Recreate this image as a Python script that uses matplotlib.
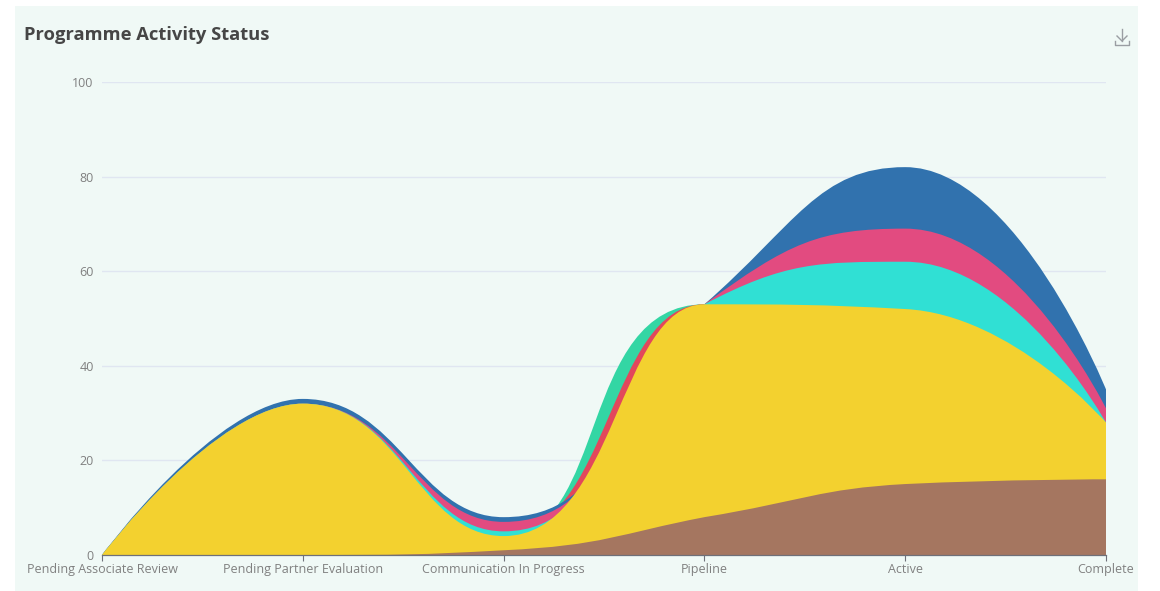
import matplotlib
matplotlib.use("Agg")
import matplotlib.pyplot as plt
from matplotlib.path import Path
from matplotlib.patches import PathPatch, Rectangle
from matplotlib.lines import Line2D

categories = ["Pending Associate Review", "Pending Partner Evaluation",
              "Communication In Progress", "Pipeline", "Active", "Complete"]
# stacked series values
brown = [0, 0, 1, 8, 15, 16]
yellow = [0, 32, 3, 45, 37, 12]
cyan = [0, 0, 1, 0, 10, 0]
pink = [0, 0, 2, 0, 7, 3]
blue = [0, 1, 1, 0, 13, 4]
# short series that only exist between Communication and Pipeline
green_ends = [4, 53]
red_ends = [4.5, 53]

W, H = 1160, 591
fig = plt.figure(figsize=(W / 100, H / 100), dpi=100, facecolor="white")
plt.rcParams["font.family"] = ["Open Sans", "DejaVu Sans"]
fig.add_artist(Rectangle((15 / W, 0), 1123 / W, 585 / H, transform=fig.transFigure,
                         facecolor="#F0F9F6", edgecolor="none", zorder=-5))

L, R, T, B = 102, 1106, 82, 555
ax = fig.add_axes([L / W, 1 - B / H, (R - L) / W, (B - T) / H])
ax.patch.set_alpha(0)
ax.set_xlim(0, len(categories) - 1)
ax.set_ylim(0, 100)
sx = (R - L) / (len(categories) - 1)
sy = (B - T) / 100
HANDLE_BACK_MAX = 0.43


def accumulate(*series):
    out, tot = [], [0] * len(series[0])
    for s in series:
        tot = [a + b for a, b in zip(tot, s)]
        out.append(tot)
    return out


def clamp(v, a, b):
    return max(min(v, max(a, b)), min(a, b))


def smooth_path(ys, smooth=0.5):
    """Bezier smoothing: handles scale with segment lengths, y clamped to each segment."""
    n = len(ys)
    py = [y * sy for y in ys]
    before, after = [None] * n, [None] * n
    before[0] = after[0] = (0.0, ys[0])
    before[-1] = after[-1] = (float(n - 1), ys[-1])
    for i in range(1, n - 1):
        y, y0, y1 = py[i], py[i - 1], py[i + 1]
        lp = (sx ** 2 + (y - y0) ** 2) ** 0.5
        ln = (sx ** 2 + (y1 - y) ** 2) ** 0.5
        r = ln / (ln + lp)
        ny = clamp(y + (y1 - y0) * smooth * r, y1, y)
        cy = clamp(y - (ny - y) * lp / ln, y0, y)
        ny = y + (y - cy) * ln / lp
        before[i] = (i - min(1 - r, HANDLE_BACK_MAX), cy / sy)
        after[i] = (i + r, ny / sy)
    verts = [(0.0, ys[0])]
    for i in range(1, n):
        verts += [after[i - 1], before[i], (float(i), ys[i])]
    return verts


def fill(verts, color, z):
    v = verts + [(verts[-1][0], 0), (verts[0][0], 0), verts[0]]
    codes = [Path.MOVETO] + [Path.CURVE4] * (len(verts) - 1) + \
            [Path.LINETO, Path.LINETO, Path.CLOSEPOLY]
    ax.add_patch(PathPatch(Path(v, codes), facecolor=color, edgecolor="none",
                           lw=0, zorder=z))


def segment(i, ends, h0, h1):
    return [(float(i), ends[0]), (i + h0, ends[0]), (i + 1 - h1, ends[1]),
            (i + 1.0, ends[1])]


c_brown, c_yellow, c_cyan, c_pink, c_blue = accumulate(brown, yellow, cyan, pink, blue)
fill(segment(2, green_ends, 0.52, 0.63), "#33D6A4", 2)
fill(segment(2, red_ends, 0.53, 0.48), "#E2475C", 2.1)
fill(smooth_path(c_blue), "#3172AE", 3)
fill(smooth_path(c_pink), "#E24B80", 4)
fill(smooth_path(c_cyan), "#30E0D4", 5)
fill(smooth_path(c_yellow), "#F3D12F", 6)
fill(smooth_path(c_brown), "#A57660", 7)

ax.set_yticks(range(0, 101, 20))
ax.set_xticks(range(len(categories)))
ax.set_xticklabels(categories)
ax.grid(axis="y", color="#E0E6F1", lw=1, zorder=1)
ax.set_axisbelow(True)
for s in ["top", "right", "left"]:
    ax.spines[s].set_visible(False)
ax.spines["bottom"].set_color("#6E7079")
ax.spines["bottom"].set_linewidth(0.9)
ax.spines["bottom"].set_zorder(10)
ax.tick_params(axis="y", length=0, pad=6, labelsize=9.0, labelcolor="#808080")
ax.tick_params(axis="x", length=4, width=0.8, color="#6E7079", pad=1.5,
               labelsize=9.0, labelcolor="#808080")

fig.text(24 / W, 1 - 35 / H, "Programme Activity Status", fontsize=13.2,
         fontweight="bold", color="#464646", ha="left", va="center")

# download icon
ic = "#9A9EA3"
for xs, ys in [([1122, 1122], [29, 41]), ([1117, 1122, 1127], [36, 41, 36]),
               ([1115, 1115, 1129, 1129], [41, 45, 45, 41])]:
    fig.add_artist(Line2D([x / W for x in xs], [1 - y / H for y in ys],
                          color=ic, lw=1.0, transform=fig.transFigure))

fig.savefig("out.png", dpi=100, facecolor="white")
